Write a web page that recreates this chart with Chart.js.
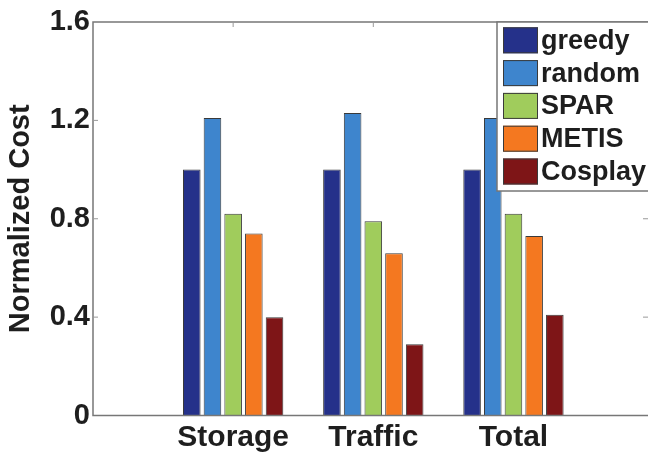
<!DOCTYPE html>
<html>
<head>
<meta charset="utf-8">
<title>Normalized Cost</title>
<script src="https://cdn.jsdelivr.net/npm/chart.js@4.4.1/dist/chart.umd.min.js"></script>
<style>
  body { margin: 0; background: #ffffff; }
  #wrap { width: 648px; height: 454px; }
</style>
</head>
<body>
<div id="wrap"><canvas id="chartjs-0" width="648" height="454"></canvas></div>
<script>
// categories and their positions on the x axis
var categories = ["Storage", "Traffic", "Total"];
var catPos = [1, 2, 3];

// series values
var greedy = [1.0, 1.0, 1.0];
var random = [1.21, 1.23, 1.21];
var spar = [0.82, 0.79, 0.82];
var metis = [0.74, 0.66, 0.73];
var cosplay = [0.40, 0.29, 0.41];

// y tick labels
var yTicks = ["0", "0.4", "0.8", "1.2", "1.6"];

var seriesNames = ["greedy", "random", "SPAR", "METIS", "Cosplay"];
var seriesValues = [greedy, random, spar, metis, cosplay];
var seriesColors = ["#25318a", "#3e85cd", "#a0cc5c", "#f47820", "#7e1517"];

var fontFam = "'Liberation Sans', Arial, sans-serif";

function toPoints(vals) {
  var pts = [];
  for (var i = 0; i < vals.length; i++) {
    pts.push({ x: catPos[i], y: vals[i] });
  }
  return pts;
}

var datasets = [];
for (var s = 0; s < seriesNames.length; s++) {
  datasets.push({
    label: seriesNames[s],
    data: toPoints(seriesValues[s]),
    backgroundColor: seriesColors[s],
    borderColor: "#3a3a3a",
    borderWidth: 1,
    categoryPercentage: 0.738,
    barPercentage: 0.85
  });
}

// frame + inward tick marks, matlab style
var framePlugin = {
  id: "frame",
  afterDatasetsDraw: function (chart) {
    var ctx = chart.ctx;
    var a = chart.chartArea;
    var ys = chart.scales.y;
    var xs = chart.scales.x;
    ctx.save();
    ctx.strokeStyle = "#777777";
    ctx.lineWidth = 1.5;
    ctx.beginPath();
    ctx.moveTo(a.right + 2, a.top);
    ctx.lineTo(a.left, a.top);
    ctx.lineTo(a.left, a.bottom);
    ctx.lineTo(a.right + 2, a.bottom);
    ctx.stroke();

    ctx.lineWidth = 1;
    ctx.strokeStyle = "#999999";
    ctx.beginPath();
    for (var i = 1; i < yTicks.length - 1; i++) {
      var py = ys.getPixelForValue(i * 0.4);
      ctx.moveTo(a.left, py);
      ctx.lineTo(a.left + 5, py);
      ctx.moveTo(a.right, py);
      ctx.lineTo(a.right - 5, py);
    }
    for (var j = 0; j < catPos.length; j++) {
      var px = xs.getPixelForValue(catPos[j]);
      ctx.moveTo(px, a.top);
      ctx.lineTo(px, a.top + 5);
    }
    ctx.stroke();
    ctx.restore();
  }
};

// legend box in the upper right corner
var legendPlugin = {
  id: "boxLegend",
  afterDraw: function (chart) {
    var ctx = chart.ctx;
    var a = chart.chartArea;
    var left = 497, top = a.top, bottom = 191;
    ctx.save();
    ctx.fillStyle = "#ffffff";
    ctx.fillRect(left, top, 160, bottom - top);
    ctx.strokeStyle = "#777777";
    ctx.lineWidth = 1.5;
    ctx.strokeRect(left, top, 160, bottom - top);

    ctx.font = "bold 27px " + fontFam;
    ctx.textBaseline = "middle";
    ctx.textAlign = "left";
    var ds = chart.data.datasets;
    for (var i = 0; i < ds.length; i++) {
      var sy = 27.3 + i * 32.8;
      ctx.fillStyle = ds[i].backgroundColor;
      ctx.fillRect(503, sy, 35, 26);
      ctx.strokeStyle = "#3a3a3a";
      ctx.lineWidth = 1;
      ctx.strokeRect(503.5, sy + 0.5, 34, 25);
      ctx.fillStyle = "#1e1e1e";
      ctx.fillText(ds[i].label, 541, sy + 14);
    }
    ctx.restore();
  }
};

var ctx = document.getElementById("chartjs-0");

var myChart = new Chart(ctx, {
  type: "bar",
  data: {
    datasets: datasets
  },
  options: {
    responsive: false,
    animation: false,
    layout: {
      padding: { top: 22, right: 0, left: 0, bottom: 0 }
    },
    plugins: {
      legend: { display: false },
      tooltip: { enabled: false }
    },
    scales: {
      x: {
        type: "linear",
        min: 0,
        max: 3.96,
        offset: false,
        border: { display: false },
        grid: { display: false, drawTicks: false },
        afterBuildTicks: function (scale) {
          scale.ticks = catPos.map(function (v) { return { value: v }; });
        },
        afterFit: function (scale) {
          scale.height = 38.5;
        },
        ticks: {
          autoSkip: false,
          maxRotation: 0,
          padding: 4,
          color: "#1e1e1e",
          font: { family: fontFam, size: 30, weight: "bold" },
          callback: function (value, index) {
            return categories[index];
          }
        }
      },
      y: {
        min: 0,
        max: 1.6,
        border: { display: false },
        grid: { display: false, drawTicks: false },
        afterFit: function (scale) {
          scale.width = 93;
        },
        ticks: {
          stepSize: 0.4,
          padding: 3,
          color: "#1e1e1e",
          font: { family: fontFam, size: 29, weight: "bold" },
          callback: function (value, index) {
            return yTicks[index];
          }
        },
        title: {
          display: true,
          text: "Normalized Cost",
          color: "#1e1e1e",
          padding: { top: 4, bottom: 0 },
          font: { family: fontFam, size: 29, weight: "bold" }
        }
      }
    }
  },
  plugins: [framePlugin, legendPlugin]
});
</script>
</body>
</html>
